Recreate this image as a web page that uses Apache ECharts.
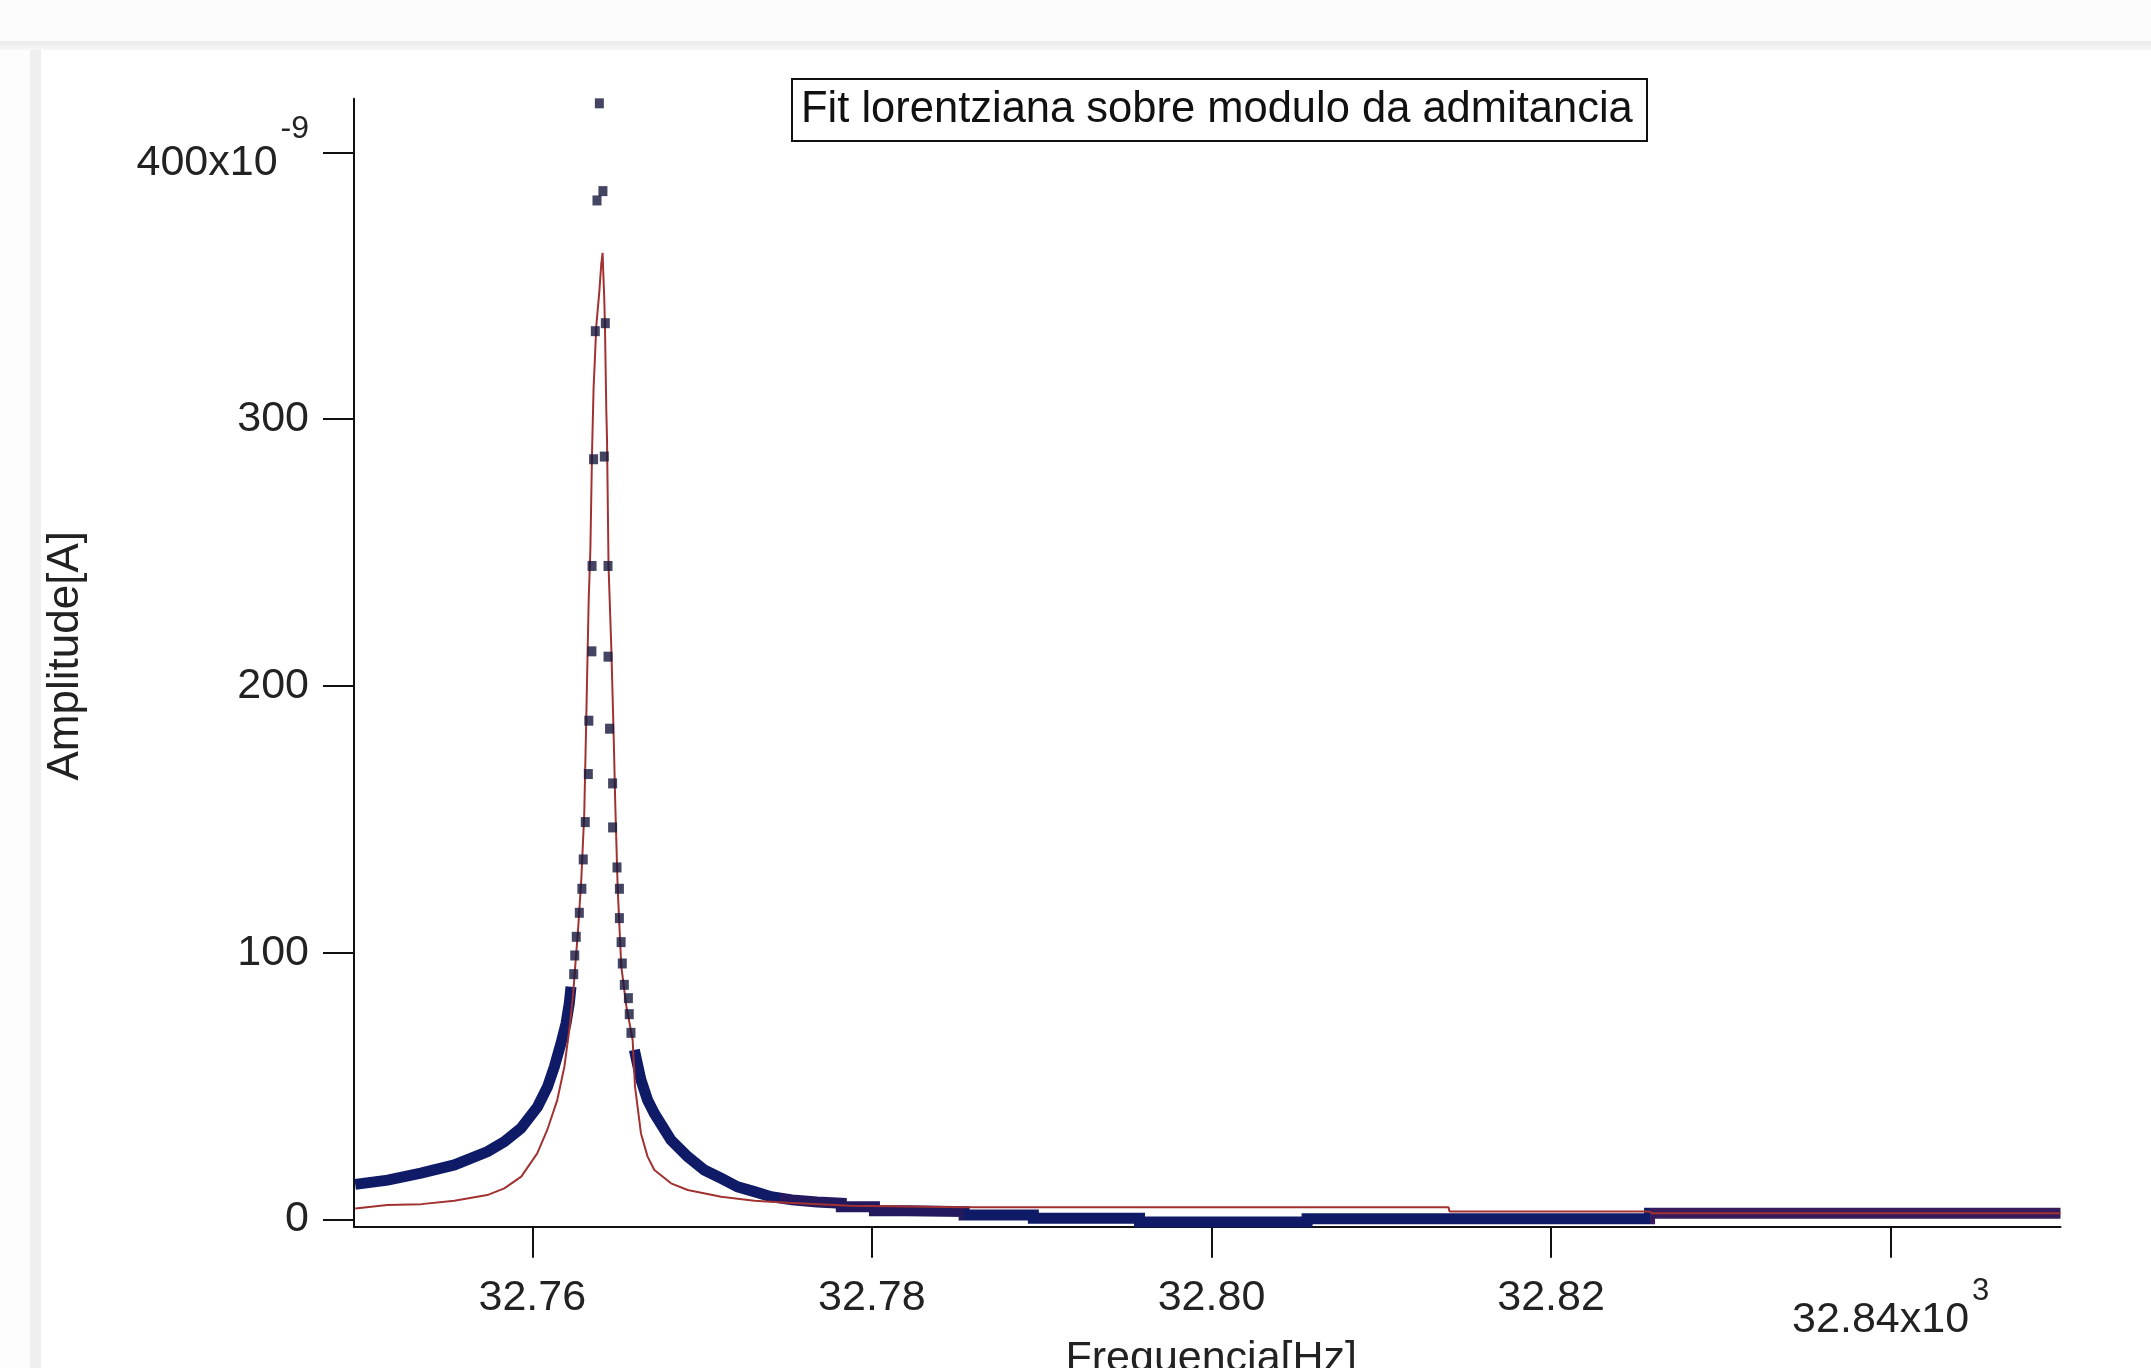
<!DOCTYPE html>
<html><head><meta charset="utf-8">
<script src="https://cdn.jsdelivr.net/npm/echarts@6/dist/echarts.min.js"></script>
<style>html,body{margin:0;padding:0;background:#fff;overflow:hidden;}#c{width:2151px;height:1368px;}</style>
</head><body><div id="c"></div>
<script>
// ---- Data (x in 10^3 Hz, y in 10^-9 A) ----
const xTickValues = [32.76, 32.78, 32.80, 32.82, 32.84];
const xTickLabels = ['32.76', '32.78', '32.80', '32.82', '32.84x10'];
const xTickExponents = ['', '', '', '', '3'];
const yTickValues = [0, 100, 200, 300, 400];
const yTickLabels = ['0', '100', '200', '300', '400x10'];
const yTickExponents = ['', '', '', '', '-9'];

// measured |Y| (dense left tail)
const measuredLeft = [
  [32.74957, 13.2], [32.75148, 14.8], [32.75344, 17.4], [32.75541, 20.5],
  [32.75737, 25.5], [32.75835, 29.2], [32.75933, 34.2], [32.76031, 42.3],
  [32.76090, 49.8], [32.76130, 57.3], [32.76169, 66.1], [32.76199, 73.6],
  [32.76218, 81.1], [32.76228, 87.3]
];
// measured |Y| (sparse points around the resonance)
const measuredPeak = [
  [32.76244, 92], [32.76250, 99], [32.76259, 106], [32.76277, 115], [32.76292, 124],
  [32.76300, 135], [32.76312, 149], [32.76330, 167], [32.76333, 187], [32.76351, 213],
  [32.76352, 245], [32.76361, 285], [32.76371, 333], [32.76381, 382], [32.76395, 418.4],
  [32.76416, 385.5], [32.76430, 336], [32.76424, 286], [32.76446, 245], [32.76446, 211],
  [32.76455, 184], [32.76473, 163.5], [32.76473, 147], [32.76499, 132], [32.76513, 124],
  [32.76513, 113], [32.76523, 104], [32.76530, 96], [32.76542, 88], [32.76566, 83],
  [32.76571, 77], [32.76581, 70]
];
// measured |Y| (dense right tail)
const measuredRight = [
  [32.76601, 63.6], [32.76640, 52.3], [32.76679, 44.8], [32.76719, 39.8],
  [32.76817, 29.8], [32.76915, 23.6], [32.77013, 18.6], [32.77112, 15.5],
  [32.77209, 12.3], [32.77308, 10.5], [32.77406, 8.6], [32.77530, 7.4],
  [32.77677, 6.6], [32.77677, 6.1], [32.77820, 6.1], [32.77820, 4.8],
  [32.78015, 4.8], [32.78015, 3.3], [32.78206, 3.3], [32.78206, 3.0],
  [32.78543, 3.0], [32.78543, 1.7], [32.78951, 1.7], [32.78951, 0.5],
  [32.79576, 0.5], [32.79576, -0.9], [32.80563, -0.9], [32.80563, 0.3],
  [32.82580, 0.3], [32.82580, 2.4], [32.85000, 2.4]
];
// Lorentzian fit
const fitCurve = [
  [32.74957, 4.2], [32.75146, 5.5], [32.75346, 5.8], [32.75541, 7.1], [32.75735, 9.2],
  [32.75835, 11.7], [32.75935, 16.1], [32.76029, 24.8], [32.76088, 33.6], [32.76147, 44.8],
  [32.76189, 57.3], [32.76218, 71.1], [32.76239, 83.5], [32.76253, 95], [32.76271, 110],
  [32.76289, 128], [32.76306, 152], [32.76318, 188], [32.76332, 232], [32.76342, 251],
  [32.76352, 288], [32.76361, 311.7], [32.76371, 326], [32.76377, 335], [32.76395, 348],
  [32.76406, 358], [32.76414, 362.4], [32.76418, 355], [32.76424, 345], [32.76428, 334.7],
  [32.76436, 303], [32.76440, 293], [32.76449, 245], [32.76465, 215], [32.76479, 182],
  [32.76489, 155], [32.76503, 124], [32.76524, 95], [32.76554, 80], [32.76591, 67.3],
  [32.76605, 49.8], [32.76640, 32.3], [32.76679, 23.6], [32.76719, 18.6], [32.76817, 13.6],
  [32.76915, 11.1], [32.77112, 8.6], [32.77308, 7.1], [32.77504, 6.3], [32.77873, 5.2],
  [32.78539, 4.6], [32.81396, 4.6], [32.81402, 3.0], [32.82580, 3.0], [32.82592, 2.4],
  [32.85000, 2.4]
];

const FONT = "'Liberation Sans', Arial, sans-serif";
const NAVY = '#0f1b66';
const PURPLE = '#361c5c';

function nearestIndex(arr, v) {
  let best = 0;
  for (let i = 1; i < arr.length; i++) if (Math.abs(arr[i] - v) < Math.abs(arr[best] - v)) best = i;
  return best;
}
function makeFormatter(vals, labs, exps) {
  return function (v) {
    const i = nearestIndex(vals, v);
    return exps[i] ? '{b|' + labs[i] + '}{s|' + exps[i] + '}' : labs[i];
  };
}

const chart = echarts.init(document.getElementById('c'), null, { renderer: 'canvas' });
chart.setOption({
  animation: false,
  backgroundColor: '#ffffff',
  graphic: [
    { type: 'rect', z: -10, silent: true, shape: { x: 0, y: 0, width: 2151, height: 41 }, style: { fill: '#fcfcfc' } },
    { type: 'rect', z: -10, silent: true, shape: { x: 0, y: 41, width: 2151, height: 9 },
      style: { fill: new echarts.graphic.LinearGradient(0, 0, 0, 1, [{ offset: 0, color: '#ebebeb' }, { offset: 1, color: '#f7f7f7' }]) } },
    { type: 'rect', z: -10, silent: true, shape: { x: 0, y: 50, width: 30, height: 1318 }, style: { fill: '#fdfdfd' } },
    { type: 'rect', z: -10, silent: true, shape: { x: 30, y: 50, width: 11, height: 1318 }, style: { fill: '#efefef' } }
  ],
  title: {
    text: 'Fit lorentziana sobre modulo da admitancia',
    left: 792, top: 79,
    borderWidth: 2, borderColor: '#111',
    padding: [5, 14, 5, 9],
    textStyle: { fontFamily: FONT, fontSize: 43.5, fontWeight: 'normal', color: '#111', lineHeight: 52 }
  },
  visualMap: {
    type: 'piecewise', show: false, seriesIndex: 1, dimension: 0,
    pieces: [
      { lt: 32.7746, color: NAVY },
      { gte: 32.7746, lt: 32.7854, color: '#24195e' },
      { gte: 32.7854, lt: 32.8258, color: NAVY },
      { gte: 32.8258, color: PURPLE }
    ]
  },
  grid: { left: 354, right: 90.5, top: 98.8, bottom: 141.3, containLabel: false, outerBoundsMode: 'none' },
  xAxis: {
    type: 'value', min: 32.7495, max: 32.8500,
    splitLine: { show: false },
    axisLine: { show: true, onZero: false, lineStyle: { color: '#111', width: 2 } },
    axisTick: { show: true, length: 31, customValues: xTickValues, lineStyle: { color: '#111', width: 2 } },
    axisLabel: {
      customValues: xTickValues, margin: 49,
      fontFamily: FONT, fontSize: 43, color: '#222', lineHeight: 44,
      formatter: makeFormatter(xTickValues, xTickLabels, xTickExponents),
      rich: {
        b: { fontFamily: FONT, fontSize: 43, color: '#222', lineHeight: 66, padding: [22, 0, 0, 0] },
        s: { fontFamily: FONT, fontSize: 31, color: '#222', lineHeight: 30, verticalAlign: 'top', padding: [0, 0, 0, 3] }
      }
    },
    name: 'Frequencia[Hz]', nameLocation: 'middle', nameGap: 111, nameMoveOverlap: false,
    nameTextStyle: { fontFamily: FONT, fontSize: 43, color: '#222', padding: [0, 0, 0, 8] }
  },
  yAxis: {
    type: 'value', min: -2.66, max: 420.1,
    splitLine: { show: false },
    axisLine: { show: true, onZero: false, lineStyle: { color: '#111', width: 2 } },
    axisTick: { show: true, length: 31, customValues: yTickValues, lineStyle: { color: '#111', width: 2 } },
    axisLabel: {
      customValues: yTickValues, margin: 45,
      fontFamily: FONT, fontSize: 43, color: '#222', lineHeight: 44,
      formatter: makeFormatter(yTickValues, yTickLabels, yTickExponents),
      rich: {
        b: { fontFamily: FONT, fontSize: 43, color: '#222', lineHeight: 78, padding: [28, 0, 6, 0] },
        s: { fontFamily: FONT, fontSize: 32, color: '#222', lineHeight: 30, verticalAlign: 'top', padding: [0, 0, 0, 3] }
      }
    },
    name: 'Amplitude[A]', nameLocation: 'middle', nameGap: 266, nameRotate: 90, nameMoveOverlap: false,
    nameTextStyle: { fontFamily: FONT, fontSize: 44, color: '#222', padding: [0, 0, 0, 14] }
  },
  series: [
    { name: 'medida', type: 'line', data: measuredLeft, symbol: 'none', z: 2,
      lineStyle: { color: NAVY, width: 11, cap: 'butt', join: 'miter' } },
    { name: 'medida', type: 'line', data: measuredRight, symbol: 'none', z: 2,
      lineStyle: { width: 11, cap: 'butt', join: 'miter' } },
    { name: 'fit', type: 'line', data: fitCurve, symbol: 'none', z: 3,
      lineStyle: { color: '#a23232', width: 2 } },
    { name: 'medida', type: 'scatter', data: measuredPeak, symbol: 'rect', symbolSize: [9, 10], z: 4,
      itemStyle: { color: '#15163c' } }
  ]
});
</script></body></html>
